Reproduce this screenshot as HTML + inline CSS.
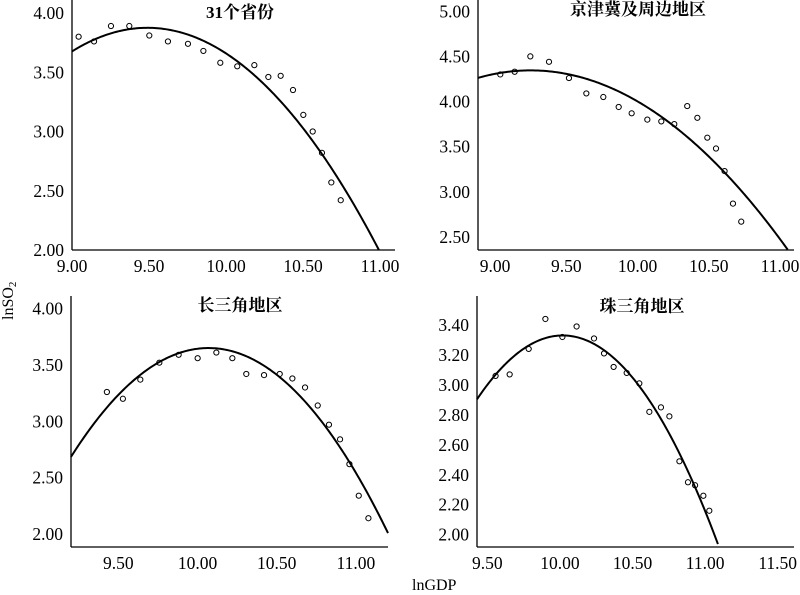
<!DOCTYPE html>
<html><head><meta charset="utf-8">
<style>
html,body{margin:0;padding:0;background:#fff;}
svg{display:block;}
text{font-family:"Liberation Serif","Noto Serif CJK SC",serif;fill:#000;}
</style></head>
<body>
<svg id="chart" width="800" height="595" viewBox="0 0 800 595" xmlns="http://www.w3.org/2000/svg">
<text x="0" y="0" font-size="16" transform="translate(13,320) rotate(-90)">lnSO<tspan font-size="11" dy="3">2</tspan></text>
<text x="412" y="590" font-size="16">lnGDP</text>
</svg>
<script>
// Panel 1: 31个省份
const p1X = [9.043,9.143,9.253,9.372,9.502,9.623,9.753,9.853,9.963,10.073,10.184,10.275,10.355,10.435,10.502,10.563,10.623,10.684,10.745];
const p1Y = [3.80,3.76,3.89,3.89,3.81,3.76,3.74,3.68,3.58,3.55,3.56,3.46,3.47,3.35,3.14,3.00,2.82,2.57,2.42];
const p1XTicks = ["9.00","9.50","10.00","10.50","11.00"];
const p1YTicks = ["2.00","2.50","3.00","3.50","4.00"];
const p1Fit = [9.49, 3.875, 0.83];
// Panel 2: 京津冀及周边地区
const p2X = [9.037,9.138,9.248,9.379,9.519,9.641,9.760,9.868,9.959,10.069,10.167,10.258,10.349,10.420,10.490,10.551,10.611,10.670,10.728];
const p2Y = [4.30,4.33,4.50,4.44,4.26,4.09,4.05,3.94,3.87,3.80,3.78,3.75,3.95,3.82,3.60,3.48,3.23,2.87,2.67];
const p2XTicks = ["9.00","9.50","10.00","10.50","11.00"];
const p2YTicks = ["2.50","3.00","3.50","4.00","4.50","5.00"];
const p2Fit = [9.25, 4.345, 0.61];
// Panel 3: 长三角地区
const p3X = [9.428,9.529,9.639,9.759,9.881,10.001,10.119,10.220,10.308,10.420,10.519,10.599,10.679,10.759,10.830,10.900,10.959,11.018,11.079];
const p3Y = [3.26,3.20,3.37,3.52,3.59,3.56,3.61,3.56,3.42,3.41,3.42,3.38,3.30,3.14,2.97,2.84,2.62,2.34,2.14];
const p3XTicks = ["9.50","10.00","10.50","11.00"];
const p3YTicks = ["2.00","2.50","3.00","3.50","4.00"];
const p3Fit = [10.07, 3.65, 1.28];
// Panel 4: 珠三角地区
const p4X = [9.557,9.654,9.785,9.900,10.017,10.115,10.235,10.304,10.370,10.460,10.547,10.616,10.696,10.754,10.823,10.882,10.931,10.988,11.029];
const p4Y = [3.06,3.07,3.24,3.44,3.32,3.39,3.31,3.21,3.12,3.08,3.01,2.82,2.85,2.79,2.49,2.35,2.33,2.26,2.16];
const p4XTicks = ["9.50","10.00","10.50","11.00","11.50"];
const p4YTicks = ["2.00","2.20","2.40","2.60","2.80","3.00","3.20","3.40"];
const p4Fit = [10.02, 3.33, 1.22];

const NS = "http://www.w3.org/2000/svg";
const svg = document.getElementById("chart");
function mk(tag, attrs, parent){const e=document.createElementNS(NS,tag);for(const k in attrs)e.setAttribute(k,attrs[k]);(parent||svg).appendChild(e);return e;}

function panel(cfg, xs, ys, xt, yt, fit, title, key){
  const g = mk("g",{});
  
  
  const sx = v => cfg.px0 + (v - cfg.x0) * cfg.kx;
  const sy = v => cfg.py0 - (v - cfg.y0) * cfg.ky;
  const xmin = cfg.x0 + (cfg.left - cfg.px0)/cfg.kx;
  const xmax = cfg.x0 + (cfg.right - cfg.px0)/cfg.kx;
  const ybot = cfg.y0 + (cfg.py0 - cfg.bottom)/cfg.ky;
  const ya = mk("line",{x1:cfg.left,y1:cfg.top,x2:cfg.left,y2:cfg.bottom,stroke:"#000","stroke-width":1.3},g);
  
  
  const xa = mk("line",{x1:cfg.left,y1:cfg.bottom,x2:cfg.right,y2:cfg.bottom,stroke:"#000","stroke-width":1.3},g);
  
  
  xt.forEach(t=>{
    const e = mk("text",{x:sx(parseFloat(t)),y:cfg.bottom+22,"font-size":17.5,"text-anchor":"middle"},g);
    
    
    e.textContent = t;
  });
  yt.forEach(t=>{
    const e = mk("text",{x:cfg.left-8,y:sy(parseFloat(t))+6,"font-size":17.5,"text-anchor":"end"},g);
    
    
    e.textContent = t;
  });
  let d = "";
  const [h, k, a] = fit;
  for(let i=0;i<=200;i++){
    const x = xmin + (xmax - xmin)*i/200;
    const y = k - a*(x-h)*(x-h);
    if (y < ybot) break;
    d += (d ? "L" : "M") + sx(x).toFixed(2) + "," + sy(y).toFixed(2);
  }
  const c = mk("path",{d:d,fill:"none",stroke:"#000","stroke-width":2},g);
  
  
  xs.forEach((x,i)=>{
    const p = mk("circle",{cx:sx(x),cy:sy(ys[i]),r:2.6,fill:"none",stroke:"#000","stroke-width":1},g);
    
    
  });
  const tt = mk("text",{x:cfg.tx,y:cfg.ty,"font-size":17,"font-weight":"bold","text-anchor":"middle"},g);
  
  
  tt.textContent = title;
}

panel({left:72,right:395,top:0,bottom:250,px0:72,x0:9.0,kx:154,py0:250,y0:2.0,ky:118.5,tx:240,ty:18}, p1X,p1Y,p1XTicks,p1YTicks,p1Fit,"31个省份","provinces");
panel({left:478,right:794,top:0,bottom:250,px0:495,x0:9.0,kx:142.5,py0:237,y0:2.5,ky:90.3,tx:638,ty:15}, p2X,p2Y,p2XTicks,p2YTicks,p2Fit,"京津冀及周边地区","jingjinji");
panel({left:71,right:388,top:296,bottom:547,px0:118.3,x0:9.5,kx:158.4,py0:534,y0:2.0,ky:112.7,tx:240,ty:311}, p3X,p3Y,p3XTicks,p3YTicks,p3Fit,"长三角地区","yangtze-delta");
panel({left:477,right:794,top:296,bottom:547,px0:487.3,x0:9.5,kx:145.2,py0:534.7,y0:2.0,ky:149.8,tx:642,ty:312}, p4X,p4Y,p4XTicks,p4YTicks,p4Fit,"珠三角地区","pearl-delta");
</script>
</body></html>
